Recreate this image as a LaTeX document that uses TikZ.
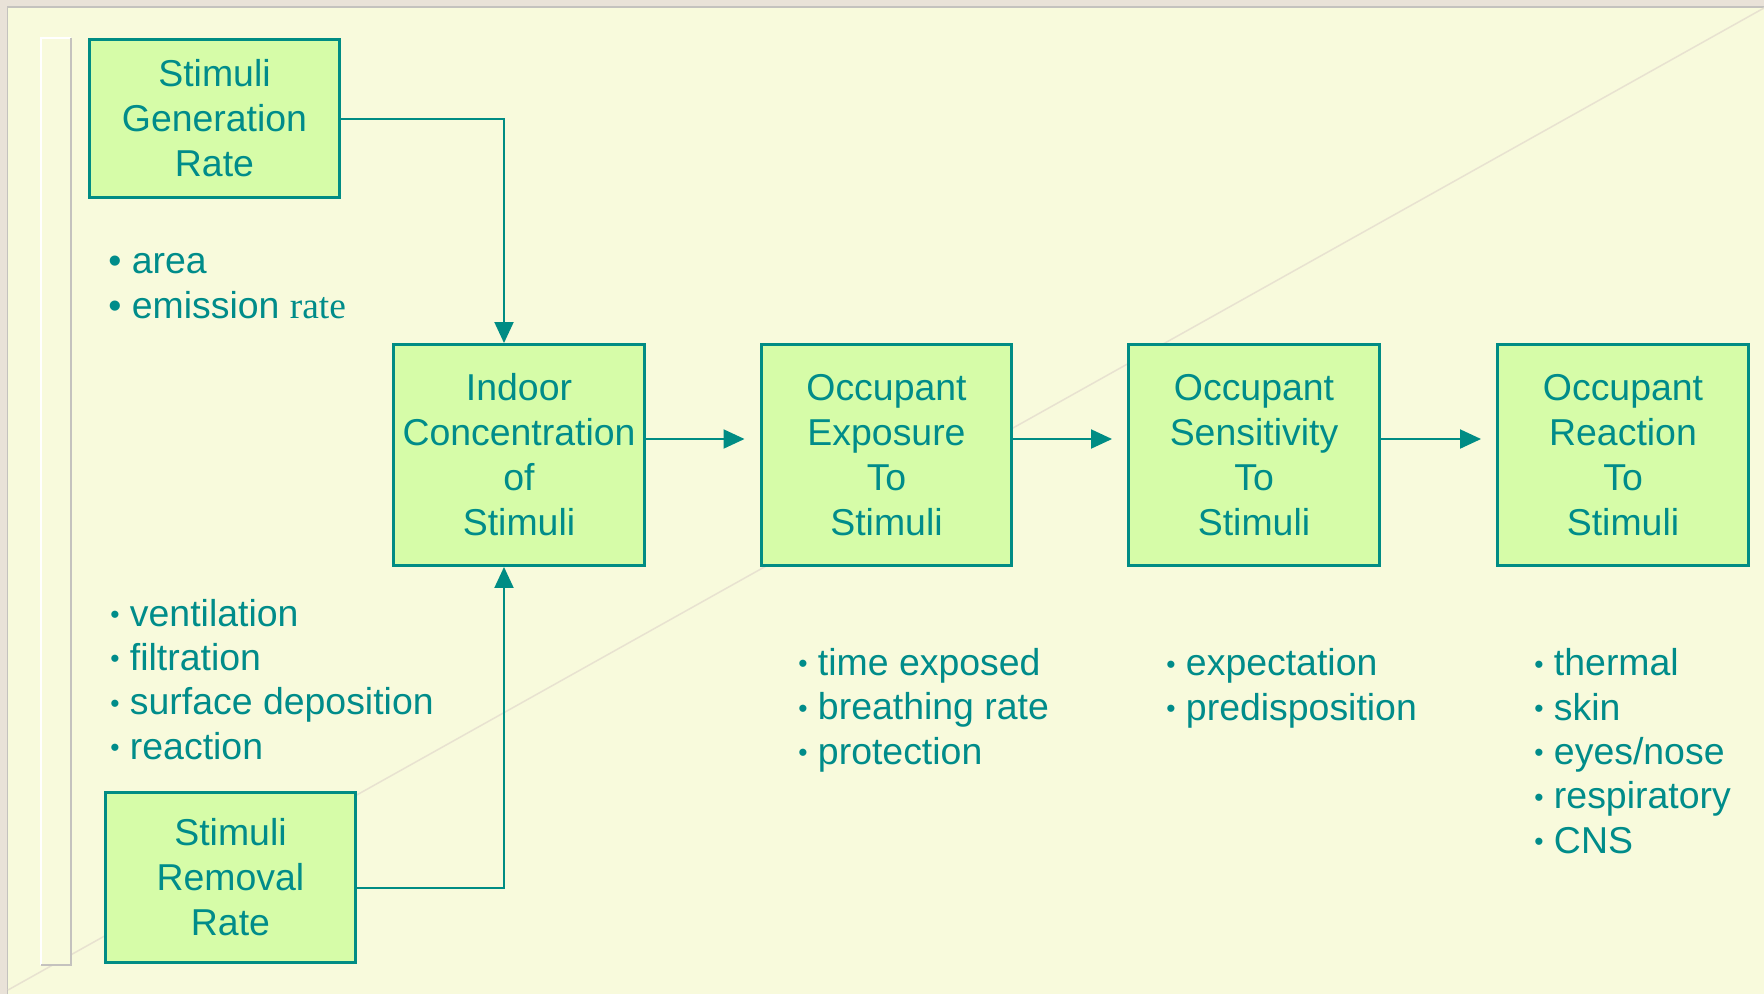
\documentclass[tikz,border=0pt]{standalone}
\usepackage{fontspec}
\setmainfont{Liberation Sans}
\newfontfamily\serifrate{Liberation Serif}
\usetikzlibrary{arrows.meta}

\definecolor{pagebg}{RGB}{248,250,220}
\definecolor{frame}{RGB}{233,226,216}
\definecolor{frameline}{RGB}{196,194,190}
\definecolor{boxfill}{RGB}{214,252,168}
\definecolor{boxline}{RGB}{0,140,132}
\definecolor{tealtext}{RGB}{0,140,138}
\definecolor{diag}{RGB}{232,226,208}

\newcommand{\bigbul}{\textbullet\ }
\newcommand{\smbul}{\raisebox{1.5pt}{\fontsize{15}{15}\selectfont\textbullet}\ }

\tikzset{
  stimbox/.style={draw=boxline, line width=0.06cm, fill=boxfill, text=tealtext,
    align=center, inner sep=0pt, minimum width=5.02cm,
    font=\fontsize{21.3}{25.6}\selectfont},
  mainbox/.style={stimbox, minimum height=4.42cm},
  bullets/.style={anchor=base west, inner sep=0pt, align=left, text=tealtext,
    font=\fontsize{21.3}{25.2}\selectfont},
  flow/.style={draw=boxline, line width=0.04cm, -{Triangle[length=0.42cm,width=0.38cm]}}
}

\begin{document}
\begin{tikzpicture}[x=0.02cm, y=-0.02cm]
	\useasboundingbox (0,0) rectangle (1764,994);
	% Define the page
	\fill[frame] (0,0) rectangle (1764,994);
	\fill[pagebg] (8,7) rectangle (1764,994);
	\draw[frameline, line width=0.04cm] (7.5,994) -- (7.5,6.5) -- (1764,6.5);
	\draw[diag, line width=0.03cm] (8,990) -- (1764,8);
	% Left bar
	\fill[pagebg] (40,38) rectangle (72,965);
	\draw[white, line width=0.05cm] (41,965) -- (41,38) -- (71,38);
	\draw[frameline, line width=0.05cm] (41,965) -- (71,965) -- (71,38);
	% Create Boxes
	\node[stimbox, minimum height=3.16cm] (gen) at (214.5,118.5) {Stimuli\\Generation\\Rate};
	\node[stimbox, minimum height=3.4cm] (removal) at (230.5,877.5) {Stimuli\\Removal\\Rate};
	\node[mainbox] (indoor) at (519,455) {Indoor\\Concentration\\of\\Stimuli};
	\node[mainbox] (expo) at (886.5,455) {Occupant\\Exposure\\To\\Stimuli};
	\node[mainbox] (sens) at (1254,455) {Occupant\\Sensitivity\\To\\Stimuli};
	\node[mainbox] (react) at (1623,455) {Occupant\\Reaction\\To\\Stimuli};
	% Connect the boxes
	\draw[flow] (gen.east) -| ([xshift=-0.3cm]indoor.north);
	\draw[flow] ([yshift=-0.2cm]removal.east) -| ([xshift=-0.3cm]indoor.south);
	\foreach \a/\b in {indoor/expo, expo/sens, sens/react}
		\draw[flow, shorten >=0.3cm] ([yshift=0.32cm]\a.east) -- ([yshift=0.32cm]\b.west);
	% Add the factors (anchored at the last line)
	\node[bullets] (genlist) at (108,318) {\bigbul area\\\bigbul emission {\serifrate rate}};
	\node[bullets] (remlist) at (110,759) {\smbul ventilation\\\smbul filtration\\\smbul surface deposition\\\smbul reaction};
	\node[bullets] (expolist) at (798,764) {\smbul time exposed\\\smbul breathing rate\\\smbul protection};
	\node[bullets] (senslist) at (1166,720) {\smbul expectation\\\smbul predisposition};
	\node[bullets] (reactlist) at (1534,853) {\smbul thermal\\\smbul skin\\\smbul eyes/nose\\\smbul respiratory\\\smbul CNS};
\end{tikzpicture}
\end{document}
